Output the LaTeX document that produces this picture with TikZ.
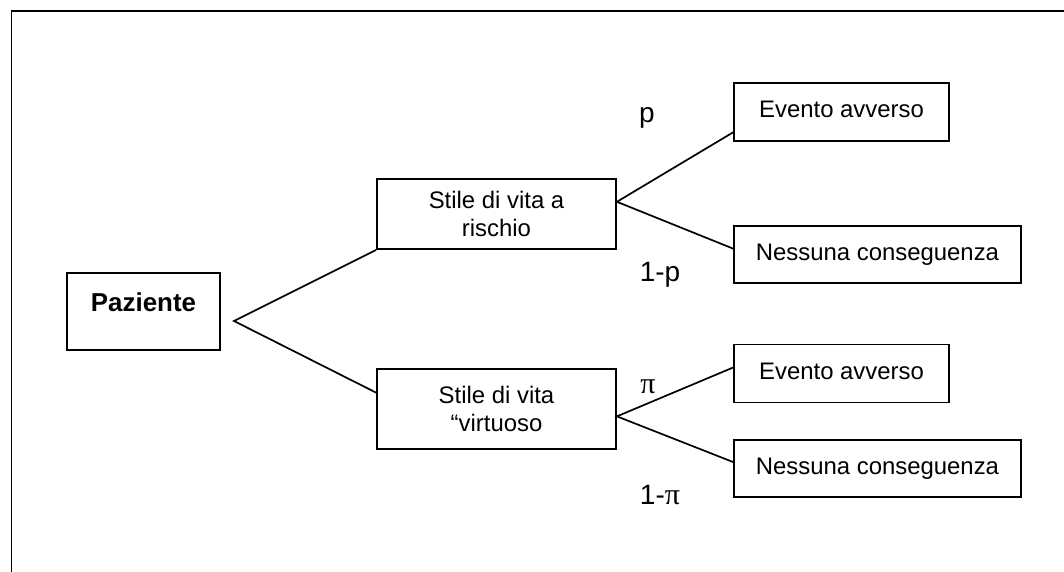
\documentclass[tikz,border=0pt]{standalone}
\usepackage{fontspec}
\setmainfont{Liberation Sans}
\newfontfamily\greekserif{Liberation Serif}
\usetikzlibrary{calc}
\begin{document}
\begin{tikzpicture}[x=1pt,y=-1pt,
  every node/.style={inner sep=0pt},
  box/.style={draw, line width=1.8pt, rectangle, align=center,
              font=\fontsize{23.9}{27.5}\selectfont},
  oneline/.style={text height=17pt, text depth=5.5pt},
  evbox/.style={box, oneline, minimum width=215pt, minimum height=58pt},
  nebox/.style={box, oneline, minimum width=287pt, minimum height=57pt},
  midbox/.style={box, minimum width=239pt},
  branch/.style={line width=1.7pt},
  prob/.style={font=\fontsize{28}{32}\selectfont}]
\useasboundingbox (0,0) rectangle (1064,572);

% page frame
\draw[line width=1.5pt] (1064,11) -- (11.5,11) -- (11.5,572);

% root
\node[box, minimum width=153pt, minimum height=77pt,
      text height=18.5pt, text depth=18.5pt,
      font=\fontsize{25.9}{30}\selectfont\bfseries] (paz) at (143.5,311.5) {Paziente};

% lifestyle choices
\node[midbox, minimum height=70pt] (rtop) at (496.5,214) {Stile di vita a\\rischio};
\node[midbox, minimum height=80pt] (virt) at (496.5,409) {Stile di vita\\“virtuoso};

% outcomes
\node[evbox] (ev1) at (841.5,112)   {Evento avverso};
\node[nebox] (ne1) at (877.5,254.5) {Nessuna conseguenza};
\node[evbox] (ev2) at (841.5,373.5) {Evento avverso};
\node[nebox] (ne2) at (877.5,468.5) {Nessuna conseguenza};

% branch points
\coordinate (j0) at (234,321);
\coordinate (j1) at ($(rtop.north east)!0.33!(rtop.south east)$);
\coordinate (j2) at ($(virt.north east)!0.59!(virt.south east)$);

\draw[branch] (rtop.south west) -- (j0) -- ($(virt.north west)!0.3!(virt.south west)$);
\draw[branch] ($(ev1.north west)!0.84!(ev1.south west)$) -- (j1) -- ($(ne1.north west)!0.4!(ne1.south west)$);
\draw[branch] ($(ev2.north west)!0.4!(ev2.south west)$) -- (j2) -- ($(ne2.north west)!0.39!(ne2.south west)$);

% probabilities
\node[prob] (p1)  at (647,118) {p};
\node[prob] (q1)  at (660,275) {1-p};
\node[prob] (p2)  at (648,387) {\fontsize{30}{32}\selectfont\greekserif π};
\node[prob] (q2)  at (660,495) {1-{\fontsize{30}{32}\selectfont\greekserif π}};
\end{tikzpicture}
\end{document}
